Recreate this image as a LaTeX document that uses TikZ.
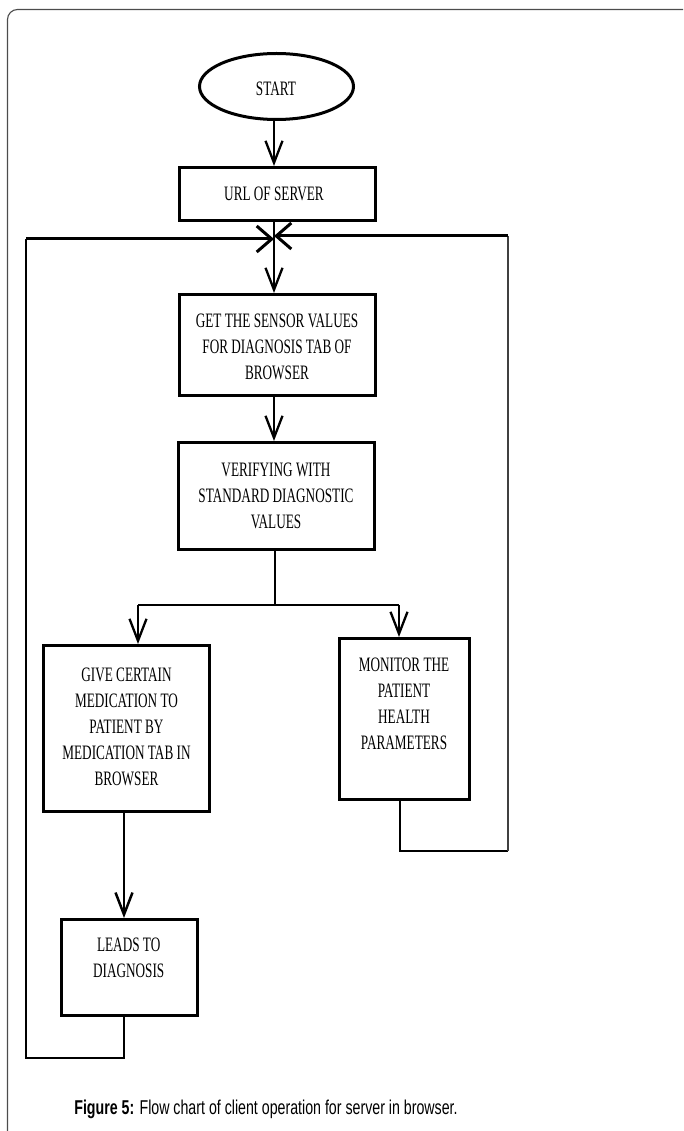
\documentclass[tikz,border=0pt]{standalone}
\usepackage{fontspec}
\newfontfamily\boxfont[FakeStretch=0.645]{Liberation Serif}
\newfontfamily\capfont[FakeStretch=0.71]{Liberation Sans}
\usetikzlibrary{arrows.meta,shapes.geometric}
\begin{document}
\begin{tikzpicture}[x=1pt,y=-1pt,
  box/.style={draw,line width=3pt,rectangle,inner sep=0pt},
  txt/.style={font={\boxfont\fontsize{20.5}{26}\selectfont},align=center,inner sep=0pt},
  vtip/.style={-{Straight Barb[length=22pt,width=17pt]}},
  htip/.style={-{Straight Barb[length=15pt,width=26pt]}},
  conn/.style={line width=2.3pt},
  thinl/.style={line width=1.3pt}]
\useasboundingbox (0,0) rectangle (683,1131);
% outer frame
\draw[gray!60!black,line width=1.1pt,rounded corners=10pt] (7.5,1131) -- (7.5,9.5) -- (683,9.5);
% nodes
\node[draw,ellipse,line width=3pt,minimum width=154pt,minimum height=66pt,inner sep=0pt] (start) at (276.5,86.5) {};
\node[txt] (startT) at (276,89) {START};
\node[box,minimum width=196pt,minimum height=53pt] (url) at (277.5,194) {};
\node[txt] (urlT) at (274,194) {URL OF SERVER};
\node[box,minimum width=196pt,minimum height=101pt] (get) at (277.5,345) {};
\node[txt] (getT) at (277,347) {GET THE SENSOR VALUES\\FOR DIAGNOSIS TAB OF\\BROWSER};
\node[box,minimum width=196pt,minimum height=107pt] (ver) at (276.5,496) {};
\node[txt] (verT) at (276,496) {VERIFYING WITH\\STANDARD DIAGNOSTIC\\VALUES};
\node[box,minimum width=166pt,minimum height=166pt] (med) at (126.5,728.5) {};
\node[txt] (medT) at (126.5,727) {GIVE CERTAIN\\MEDICATION TO\\PATIENT BY\\MEDICATION TAB IN\\BROWSER};
\node[box,minimum width=130pt,minimum height=161pt] (mon) at (404.5,719) {};
\node[txt] (monT) at (404,703.5) {MONITOR THE\\PATIENT\\HEALTH\\PARAMETERS};
\node[box,minimum width=136pt,minimum height=96pt] (leads) at (129.5,967.5) {};
\node[txt] (leadsT) at (128.7,958) {LEADS TO\\DIAGNOSIS};
% coordinates
\coordinate (J) at (274,237.5);
\coordinate (br) at (275,605);
\coordinate (brL) at (138,605);
\coordinate (brR) at (399,605);
\coordinate (LLb) at (26,1058);
\coordinate (LLt) at (26,239);
\coordinate (RRb) at (508,851);
\coordinate (RRt) at (508,236);
% connectors
\draw[conn,vtip] (start.south -| J) -- (url.north -| J);
\draw[conn] (url.south -| J) -- (J);
\draw[conn,vtip] (J) -- (get.north -| J);
\draw[conn,vtip] (get.south -| J) -- (ver.north -| J);
\draw[thinl] (ver.south -| br) -- (br);
\draw[thinl] (brL) -- (brR);
\draw[conn,vtip] (brL) -- (med.north -| brL);
\draw[conn,vtip] (brR) -- (mon.north -| brR);
\draw[line width=2.5pt,vtip] (med.south -| 124,0) -- (leads.north -| 124,0);
% left loop
\draw[thinl] (leads.south -| 124,0) |- (LLb) -- (LLt);
\draw[line width=3pt,htip] (LLt) -- (J |- LLt);
% right loop
\draw[thinl] (mon.south -| 400,0) |- (RRb);
\draw[line width=1.8pt,gray!50!black] (RRb) -- (RRt);
\draw[line width=3pt,htip] (RRt) -- (J |- RRt);
% caption
\node[font={\capfont\fontsize{20}{24}\selectfont},anchor=base,inner sep=0pt] (cap) at (266,1114) {\textbf{Figure 5:} Flow chart of client operation for server in browser.};
\end{tikzpicture}
\end{document}
